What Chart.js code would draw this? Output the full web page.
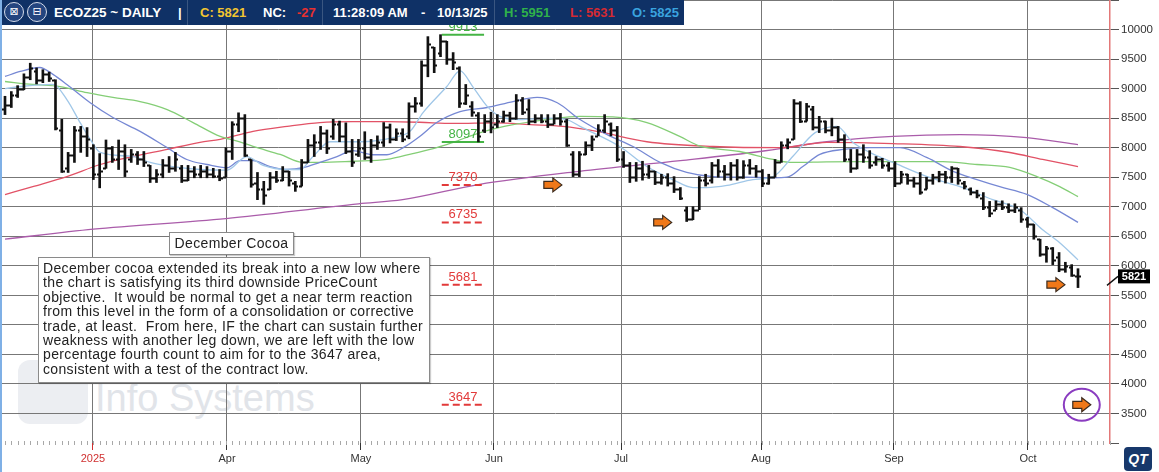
<!DOCTYPE html>
<html>
<head>
<meta charset="utf-8">
<script src="https://cdn.jsdelivr.net/npm/chart.js@4.4.1/dist/chart.umd.min.js"></script>
<style>
  body { margin: 0; background: #fff; overflow: hidden; font-family: "Liberation Sans", Arial, sans-serif; }
  #wrap { position: relative; width: 1159px; height: 472px; }
  canvas { position: absolute; left: 0; top: 0; z-index: 1; }
  .wm { position: absolute; z-index: 0; color: #e1e4e9; }
  #hdr { position: absolute; left: 0; top: 0; width: 684px; height: 25px; background: #0f3166; z-index: 3; }
  #hdr span { position: absolute; top: 0; line-height: 25px; font-size: 13px; font-weight: bold; color: #fff; white-space: nowrap; }
  #hdr .sep { position: absolute; top: 0; width: 1px; height: 25px; background: rgba(255,255,255,0.18); }
  .ic { position: absolute; top: 2px; width: 18px; height: 18px; border-radius: 50%; border: 1.5px solid #d5dcea;
        background: #24457f; color: #fff; font-size: 11px; text-align: center; line-height: 18px; font-family: "DejaVu Sans", sans-serif; }
  .box { position: absolute; z-index: 2; background: #fff; border: 1px solid #8a8a8a; box-sizing: border-box;
         box-shadow: 1px 1px 1px rgba(0,0,0,0.2); color: #222; font-size: 14px; letter-spacing: 0.35px; }
</style>
</head>
<body>
<div id="wrap">
  <div class="wm" style="left:18px;top:360px;width:70px;height:64px;border-radius:12px;background:#eceef2;"></div>
  <div class="wm" style="left:95px;top:378px;font-size:38px;line-height:40px;">Info Systems</div>
  <canvas id="chart" width="1159" height="472"></canvas>
  <div id="hdr">
    <div class="ic" style="left:4px;">&#8864;</div>
    <div class="ic" style="left:27px;">&#8863;</div>
    <span style="left:54px;font-size:13.5px;">ECOZ25 ~ DAILY</span>
    <span style="left:178px;">|</span>
    <div class="sep" style="left:187px;"></div>
    <span style="left:200px;color:#f2c530;">C: 5821</span>
    <span style="left:263px;">NC:</span>
    <span style="left:297px;color:#e83030;">-27</span>
    <div class="sep" style="left:322px;"></div>
    <span style="left:333px;">11:28:09 AM</span>
    <span style="left:421px;">-</span>
    <span style="left:437px;">10/13/25</span>
    <div class="sep" style="left:494px;"></div>
    <span style="left:504px;color:#2fb24a;">H: 5951</span>
    <span style="left:570px;color:#d42a32;">L: 5631</span>
    <span style="left:632px;color:#3aa3df;">O: 5825</span>
  </div>
  <div class="box" style="left:169px;top:232px;width:125px;height:23px;text-align:center;line-height:21px;">December Cocoa</div>
  <div class="box" style="left:38px;top:257px;width:392px;height:126px;padding:3px 0 0 4px;line-height:14.4px;">
    December cocoa extended its break into a new low where<br>
    the chart is satisfying its third downside PriceCount<br>
    objective.&nbsp; It would be normal to get a near term reaction<br>
    from this level in the form of a consolidation or corrective<br>
    trade, at least.&nbsp; From here, IF the chart can sustain further<br>
    weakness with another leg down, we are left with the low<br>
    percentage fourth count to aim for to the 3647 area,<br>
    consistent with a test of the contract low.
  </div>
  <div style="position:absolute;left:0;top:0;width:2px;height:472px;background:#7fb0e6;z-index:4;"></div>
  <div style="position:absolute;left:1124px;top:447px;width:28px;height:24px;border-radius:4px;background:#17386b;z-index:4;
              color:#fff;font:italic bold 14px 'Liberation Sans',Arial;line-height:24px;text-align:center;">QT</div>
</div>
<script>
// daily bars, index 0 = first visible session
const opens = [
  8650,8720,8900,9000,9200,9300,9150,9250,9150,8300,
  7650,7880,8300,8200,8000,7550,7650,8000,7800,7950,
  7800,7900,7800,7700,7480,7550,7700,7650,7650,7450,
  7600,7550,7600,7550,7520,7500,7950,8400,8500,7800,
  7400,7300,7300,7500,7450,7600,7400,7350,7750,8050,
  8100,8250,8200,8400,8200,7950,7900,8000,7850,8050,
  8100,8350,8150,8250,8200,8700,8750,9400,9700,9600,
  9800,9500,9350,8750,8700,8550,8300,8450,8400,8450,
  8550,8500,8800,8650,8450,8500,8450,8400,8500,8450,
  7900,7550,7900,8050,8200,8300,8400,8300,7800,7700,
  7500,7650,7550,7600,7420,7500,7400,7300,6950,6800,
  6950,7450,7450,7700,7600,7550,7700,7500,7700,7650,
  7600,7400,7500,7750,8050,8150,8750,8450,8650,8350,
  8450,8300,8350,8150,7800,7650,7900,7850,7750,7800,
  7700,7650,7400,7550,7450,7400,7300,7450,7500,7550,
  7500,7650,7400,7300,7250,7150,7000,6950,7050,7000,
  6950,6950,6800,6700,6450,6200,6300,6150,5950,5980,
  5825
];
const highs = [
  8870,8950,9050,9250,9430,9350,9320,9280,9150,8480,
  7920,8360,8360,8340,8050,7900,8130,8020,8130,8050,
  7970,7935,7935,7700,7630,7800,7850,7920,7700,7700,
  7680,7700,7680,7650,7630,8000,8440,8590,8560,7800,
  7580,7430,7580,7600,7680,7600,7430,7800,8140,8220,
  8360,8300,8480,8450,8420,8140,8140,8270,8140,8200,
  8425,8400,8320,8320,8760,8850,9470,9880,9700,9913,
  9800,9610,9370,9070,8780,8595,8560,8600,8560,8620,
  8600,8900,8850,8815,8560,8560,8560,8560,8580,8480,
  7935,7935,8100,8200,8390,8560,8420,8360,7935,7750,
  7750,7770,7700,7600,7550,7560,7510,7325,7000,7000,
  7510,7550,7750,7800,7700,7750,7800,7780,7800,7700,
  7630,7550,7800,8100,8150,8815,8780,8750,8700,8530,
  8450,8500,8360,8220,7970,7970,8050,7950,7850,7820,
  7750,7765,7600,7550,7500,7580,7500,7550,7600,7600,
  7680,7650,7430,7320,7280,7240,7090,7100,7100,7050,
  7050,6985,6820,6700,6450,6330,6310,6225,6060,6020,
  5951
];
const lows = [
  8560,8680,8850,8980,9150,9080,9100,9120,8300,7580,
  7580,7750,7920,7850,7460,7320,7650,7750,7630,7510,
  7750,7715,7680,7410,7410,7490,7580,7600,7410,7440,
  7490,7490,7490,7490,7440,7500,7800,8270,7850,7330,
  7120,7040,7290,7410,7440,7350,7260,7350,7750,7850,
  7970,7900,8140,8100,7900,7680,7850,7800,7750,7970,
  8020,8080,8120,8100,8150,8600,8700,9200,9270,9540,
  9410,9320,8680,8730,8530,8097,8255,8250,8340,8430,
  8440,8480,8560,8390,8420,8420,8340,8400,8380,8020,
  7510,7510,7880,7950,8200,8255,8200,7765,7665,7410,
  7430,7450,7480,7375,7380,7350,7240,7120,6750,6780,
  6950,7350,7400,7500,7450,7450,7450,7480,7550,7500,
  7340,7380,7500,7750,7980,8140,8425,8450,8300,8255,
  8250,8200,8090,7765,7580,7640,7750,7650,7700,7650,
  7600,7340,7400,7380,7330,7210,7300,7380,7420,7400,
  7410,7380,7300,7200,7150,6950,6830,6950,6950,6900,
  6900,6735,6650,6450,6160,6060,6020,5900,5890,5820,
  5631
];
const closes = [
  8720,8900,9000,9200,9350,9150,9250,9180,8330,7600,
  7880,8300,8200,8150,7550,7600,8000,7800,7950,7600,
  7900,7800,7750,7480,7550,7700,7650,7800,7450,7600,
  7550,7600,7550,7520,7480,7950,8400,8500,7880,7380,
  7300,7200,7500,7450,7600,7450,7350,7750,8050,8100,
  8250,8000,8400,8200,7950,7750,8000,7850,8050,8100,
  8350,8150,8250,8150,8700,8750,9400,9750,9400,9800,
  9500,9450,8750,8900,8600,8200,8450,8350,8450,8550,
  8500,8800,8600,8450,8500,8450,8400,8500,8450,8050,
  7550,7900,8050,8150,8300,8450,8300,7800,7700,7500,
  7650,7550,7600,7420,7500,7400,7300,7150,6800,6950,
  7450,7400,7700,7600,7550,7700,7500,7700,7650,7600,
  7400,7500,7750,8050,8100,8750,8450,8700,8350,8450,
  8300,8350,8150,7800,7650,7900,7850,7700,7800,7700,
  7650,7400,7550,7450,7400,7250,7450,7500,7550,7500,
  7650,7450,7350,7250,7200,7000,6900,7050,7000,6950,
  7000,6800,6700,6500,6200,6300,6100,5950,6000,5848,
  5821
];

// moving averages: [bar index, price]
const maFast = [[0,9000],[2.9,9040],[7.6,9070],[9.8,8815],[11.9,8425],[13.5,8140],[15.1,7920],[20.3,7850],[23,7750],
  [26.6,7680],[30.9,7630],[35.2,7620],[38.3,7850],[40.9,7700],[44.7,7630],[46.7,7630],[48.8,7850],[51.5,8100],
  [56.2,8100],[61.5,8170],[64.2,8280],[66.2,8590],[70,9035],[72.1,9300],[74.1,9035],[76.4,8700],[78.4,8530],
  [81.6,8476],[85.9,8500],[89,8476],[91.1,8360],[97.4,8020],[101.7,7680],[105.8,7460],[109,7325],[111.2,7325],
  [114.4,7360],[118.5,7460],[121.7,7510],[124.8,7850],[128.3,8250],[131.8,8360],[134.3,8090],[137,7920],
  [140.7,7750],[146.1,7510],[151.3,7340],[156.5,7120],[160.8,6950],[164.4,6610],[167.1,6390],[170,6100]];
const maMid = [[0,9205],[2.4,9290],[5.5,9357],[7.6,9240],[9.8,9070],[13.5,8760],[17.1,8510],[21.4,8275],[25.7,8000],
  [28.8,7800],[32,7715],[35.2,7660],[37.2,7780],[39.3,7780],[42,7680],[44.7,7630],[47.2,7660],[49.9,7750],
  [52.6,7850],[55.1,7950],[58.3,7880],[60.5,7880],[63.1,8000],[65.7,8190],[68.4,8425],[72.1,8610],[76.4,8680],
  [80.5,8780],[84.3,8850],[87.5,8760],[91.1,8476],[95.4,8220],[99.5,8020],[103.8,7750],[108,7580],[112.2,7510],
  [117.6,7500],[121.7,7490],[123.9,7500],[126.4,7680],[129.1,7885],[132.8,7970],[137,8000],[141.8,8000],
  [146.1,7830],[150.2,7600],[154,7460],[157.6,7340],[161.9,7210],[166,6985],[170,6735]];
const maSlow = [[0,9120],[4.4,9070],[8.7,9035],[13,8930],[17.1,8850],[21.4,8780],[25.7,8645],[29.8,8425],[34.1,8190],
  [37.2,8100],[39.3,8020],[43.6,7885],[47.2,7750],[49.9,7750],[55.1,7770],[60.5,7800],[64.6,7900],[68.4,8000],
  [71,8090],[75.3,8255],[80.5,8390],[85.9,8476],[91.1,8530],[96.3,8520],[101.7,8425],[106.9,8190],[110,8030],
  [116.4,7935],[121.7,7800],[124.8,7750],[130.2,7760],[135.5,7765],[143.4,7765],[148.6,7765],[154,7715],
  [159.2,7665],[163.5,7510],[167.1,7340],[170,7170]];
const ma100 = [[0,7205],[4.4,7340],[9.8,7510],[15.1,7715],[20.3,7850],[25.7,7970],[30.9,8090],[34.1,8140],[39.3,8275],
  [44.7,8360],[49.9,8425],[55.1,8440],[60.5,8440],[65.7,8430],[71,8410],[77.9,8420],[83.2,8390],[88.4,8360],
  [93.8,8275],[101.7,8100],[112.2,8020],[122.8,8000],[130.2,8090],[140.7,8070],[151.3,8020],[159.2,7918],
  [164.4,7800],[170,7680]];
const ma200 = [[0,6450],[14,6620],[35,6800],[56,7050],[63,7120],[75,7375],[91,7600],[107,7780],[119.6,7935],
  [130.2,8100],[140.7,8190],[151.3,8220],[161.9,8170],[170,8050]];

// PriceCount levels and arrows
const levelValues = [9913, 8097, 7370, 6735, 5681, 3647];
const levelKinds = ['up', 'up', 'down', 'down', 'down', 'down'];
const levelSpan = [69.2, 75.9];
const arrowIdx = [86.8, 104.2, 166.5, 170.6];
const arrowPrice = [7370, 6735, 5681, 3647];

const monthPos = [13.94, 35.17, 56.4, 77.47, 97.6, 119.8, 140.84, 162.07];
const monthLabels = ['2025', 'Apr', 'May', 'Jun', 'Jul', 'Aug', 'Sep', 'Oct'];

const GREEN = '#45b445', RED = '#e23a3a';
const toXY = arr => arr.map(p => ({x: p[0], y: p[1]}));

const maLine = (data, color) => ({
    type: 'line', data: toXY(data), borderColor: color, borderWidth: 1.3,
    pointRadius: 0, cubicInterpolationMode: 'monotone', order: 2
});

const levelSets = levelValues.map((v, i) => ({
    type: 'line',
    data: [{x: levelSpan[0], y: v}, {x: levelSpan[1], y: v}],
    borderColor: levelKinds[i] === 'up' ? GREEN : RED,
    borderWidth: 2,
    borderDash: levelKinds[i] === 'up' ? [] : [7, 4],
    pointRadius: 0, order: 1
}));

// one small tick per session along the bottom edge
const dayTicks = {
    id: 'dayTicks',
    beforeDatasetsDraw(chart) {
        const {ctx, scales: {x}, chartArea} = chart;
        ctx.save();
        ctx.strokeStyle = '#a8a8a8';
        ctx.lineWidth = 1;
        ctx.beginPath();
        for (let i = Math.ceil(x.min); i <= x.max; i++) {
            const px = Math.round(x.getPixelForValue(i)) + 0.5;
            ctx.moveTo(px, chartArea.bottom - 2);
            ctx.lineTo(px, chartArea.bottom + 2);
        }
        ctx.stroke();
        ctx.restore();
    }
};

const overlay = {
    id: 'overlay',
    afterDatasetsDraw(chart) {
        const {ctx, scales: {x, y}, chartArea} = chart;
        ctx.save();
        // open / close ticks
        ctx.strokeStyle = '#111';
        ctx.lineWidth = 2;
        ctx.beginPath();
        for (let i = 0; i < closes.length; i++) {
            const px = Math.round(x.getPixelForValue(i));
            const po = Math.round(y.getPixelForValue(opens[i])) + 0.5;
            const pc = Math.round(y.getPixelForValue(closes[i])) + 0.5;
            ctx.moveTo(px - 3, po); ctx.lineTo(px, po);
            ctx.moveTo(px, pc); ctx.lineTo(px + 3, pc);
        }
        ctx.stroke();

        // level labels
        ctx.font = '13px "Liberation Sans", Arial, sans-serif';
        ctx.textAlign = 'center';
        ctx.textBaseline = 'alphabetic';
        const lx = x.getPixelForValue((levelSpan[0] + levelSpan[1]) / 2);
        levelValues.forEach((v, i) => {
            ctx.fillStyle = levelKinds[i] === 'up' ? GREEN : RED;
            ctx.fillText(String(v), lx, y.getPixelForValue(v) - 4);
        });

        // arrows
        arrowIdx.forEach((a, i) => {
            const cx = x.getPixelForValue(a), cy = y.getPixelForValue(arrowPrice[i]);
            ctx.beginPath();
            ctx.moveTo(cx - 9, cy - 3.5);
            ctx.lineTo(cx, cy - 3.5);
            ctx.lineTo(cx, cy - 7);
            ctx.lineTo(cx + 9, cy);
            ctx.lineTo(cx, cy + 7);
            ctx.lineTo(cx, cy + 3.5);
            ctx.lineTo(cx - 9, cy + 3.5);
            ctx.closePath();
            ctx.fillStyle = '#f07818';
            ctx.fill();
            ctx.strokeStyle = '#3b2b1e';
            ctx.lineWidth = 1.2;
            ctx.stroke();
        });

        // circle round the last target
        const last = arrowIdx.length - 1;
        const ccx = x.getPixelForValue(arrowIdx[last]), ccy = y.getPixelForValue(arrowPrice[last]);
        ctx.beginPath();
        ctx.ellipse(ccx, ccy, 18, 16, 0, 0, Math.PI * 2);
        ctx.strokeStyle = '#8a3cc0';
        ctx.lineWidth = 2;
        ctx.stroke();

        // last price tag
        const lastClose = closes[closes.length - 1];
        const py = y.getPixelForValue(lastClose);
        const bx = chartArea.right + 8;
        ctx.strokeStyle = '#111';
        ctx.lineWidth = 1.3;
        ctx.beginPath();
        ctx.moveTo(chartArea.right - 3, py + 9);
        ctx.lineTo(bx, py);
        ctx.stroke();
        ctx.fillStyle = '#000';
        ctx.fillRect(bx, py - 7, 32, 14);
        ctx.fillStyle = '#fff';
        ctx.font = 'bold 11px "Liberation Sans", Arial, sans-serif';
        ctx.textAlign = 'center';
        ctx.textBaseline = 'middle';
        ctx.fillText(String(lastClose), bx + 16, py + 0.5);
        ctx.restore();
    }
};

Chart.defaults.font.family = '"Liberation Sans", Arial, sans-serif';

new Chart(document.getElementById('chart').getContext('2d'), {
    type: 'bar',
    data: {
        datasets: [
            {
                type: 'bar',
                data: highs.map((h, i) => ({x: i, y: [lows[i], h]})),
                backgroundColor: '#111',
                barThickness: 2,
                order: 0
            },
            maLine(maFast, 'rgb(160,199,232)'),
            maLine(maMid, 'rgb(118,136,212)'),
            maLine(maSlow, 'rgb(132,206,118)'),
            maLine(ma100, 'rgb(226,82,102)'),
            maLine(ma200, 'rgb(170,92,170)'),
            ...levelSets
        ]
    },
    options: {
        responsive: false,
        animation: false,
        layout: { padding: { left: 2, right: 0, top: 0, bottom: 0 } },
        plugins: { legend: { display: false }, tooltip: { enabled: false } },
        scales: {
            x: {
                type: 'linear',
                min: -0.475,
                max: 175.07,
                offset: false,
                afterBuildTicks: s => { s.ticks = monthPos.map(v => ({value: v})); },
                afterFit: s => { s.height = 29; },
                ticks: {
                    autoSkip: false,
                    maxRotation: 0,
                    padding: 2,
                    font: { size: 11 },
                    color: c => c.index === 0 ? '#d03030' : '#333',
                    callback: (v, i) => monthLabels[i]
                },
                grid: {
                    offset: false,
                    color: '#777',
                    lineWidth: 1,
                    tickLength: 7,
                    tickColor: c => c.index === 0 ? '#d03030' : '#333'
                },
                border: { display: false }
            },
            y: {
                position: 'right',
                min: 3000,
                max: 10500,
                afterFit: s => { s.width = 49; s.paddingTop = 0; s.paddingBottom = 0; },
                ticks: {
                    stepSize: 500,
                    padding: 2,
                    font: { size: 11.5 },
                    color: '#333',
                    callback: v => (v >= 3500 && v <= 10000) ? String(v) : ''
                },
                grid: {
                    color: c => (c.tick && c.tick.value === 3000) ? 'rgba(0,0,0,0)' : '#777',
                    lineWidth: 1,
                    tickLength: 9,
                    tickColor: '#555'
                },
                border: { display: true, color: '#e37878', width: 1.5 }
            }
        }
    },
    plugins: [dayTicks, overlay]
});
</script>
</body>
</html>
